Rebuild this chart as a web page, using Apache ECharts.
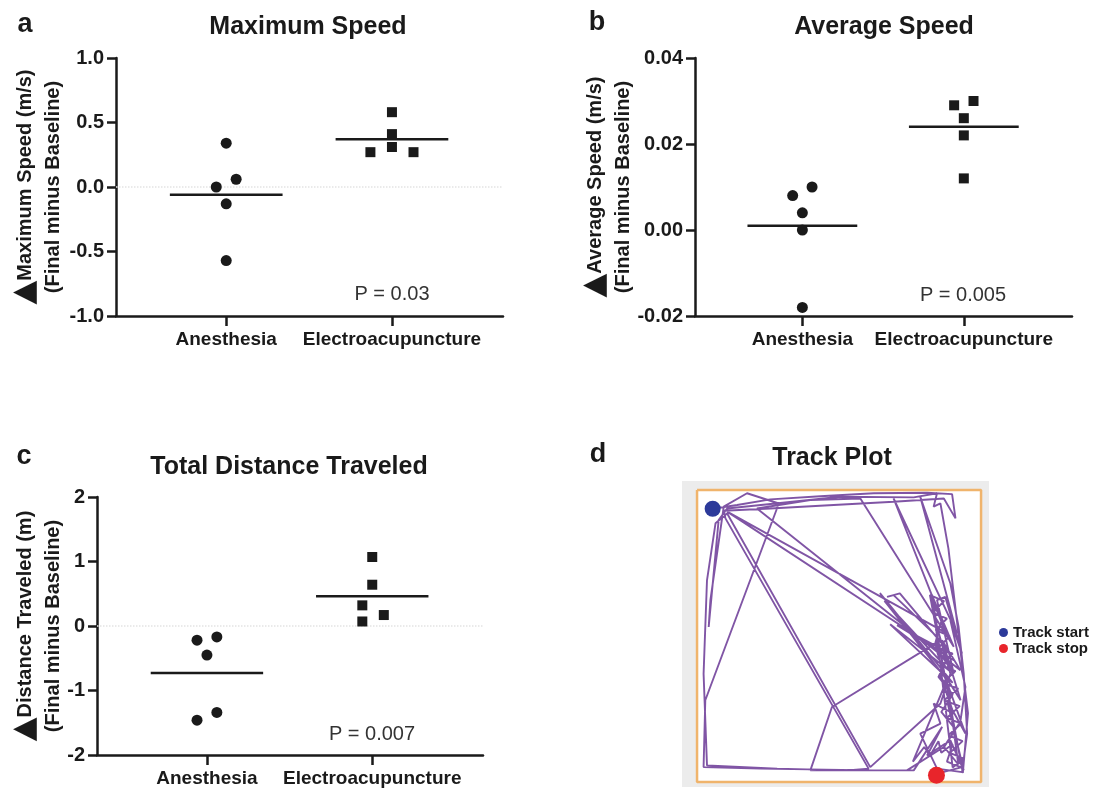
<!DOCTYPE html>
<html>
<head>
<meta charset="utf-8">
<script src="https://cdn.jsdelivr.net/npm/echarts@6.0.0/dist/echarts.min.js"></script>
<style>
  html, body { margin: 0; padding: 0; background: #fff; }
  #chart { width: 1096px; height: 788px; }
</style>
</head>
<body>
<div id="chart"></div>
<script>
// groups on the x axis (placed at 1 and 2, points jittered around them)
const groups = ['Anesthesia', 'Electroacupuncture'];

// a: maximum speed, final minus baseline (m/s)
const maxAnesX = [1, 1.06, 0.94, 1, 1];
const maxAnesY = [0.34, 0.06, 0.0, -0.13, -0.57];
const maxEaX = [2, 2, 2, 1.87, 2.13];
const maxEaY = [0.58, 0.41, 0.31, 0.27, 0.27];
const maxMeans = [-0.06, 0.37];

// b: average speed (m/s)
const avgAnesX = [0.94, 1.06, 1, 1, 1];
const avgAnesY = [0.008, 0.010, 0.004, 0.0, -0.018];
const avgEaX = [1.94, 2.06, 2, 2, 2];
const avgEaY = [0.029, 0.030, 0.026, 0.022, 0.012];
const avgMeans = [0.001, 0.024];

// c: total distance traveled (m)
const distAnesX = [0.94, 1.06, 1, 0.94, 1.06];
const distAnesY = [-0.22, -0.17, -0.45, -1.46, -1.34];
const distEaX = [2, 2, 1.94, 2.07, 1.94];
const distEaY = [1.07, 0.64, 0.32, 0.17, 0.07];
const distMeans = [-0.73, 0.46];

const pValues = ['P = 0.03', 'P = 0.005', 'P = 0.007'];

// d: track plot, arena units 0..100 (y measured downwards)
const arenaX = [0, 100, 100, 0, 0];
const arenaY = [0, 0, 100, 100, 0];
const trackX = [5.5, 14.1, 25.8, 43.4, 62.2, 81.0, 89.8, 91.0, 86.9, 69.2, 48.1, 25.8, 9.4, 10.0,
  60.4, 52.8, 28.2, 3.5, 2.3, 3.5, 6.5, 10.6, 61.0, 85.7, 89.2, 84.5, 82.7, 90.4, 57.5, 39.9,
  21.1, 92.7, 86.3, 92.8, 86.9, 94.5, 88.0, 93.9, 89.2, 81.0, 86.3, 76.3, 39.9, 47.5, 85.7,
  69.2, 66.9, 71.4, 89.2, 70.4, 90.4, 10.6, 88.0, 69.2, 91.5, 78.6, 89.2, 92.1, 93.9, 95.1,
  93.3, 84.5, 78.6, 85.7, 83.3, 90.4, 85.4, 89.2, 84.0, 90.4, 84.5, 87.4, 93.3, 89.2, 94.5,
  92.7, 86.9, 73.9, 62.2, 22.3, 2.3, 2.9, 28.8, 17.6, 9.4, 4.7, 4.1, 7.6, 10.6, 50.5, 76.3,
  84.5, 83.3, 85.7, 88.5, 89.8, 92.6, 95.4, 93.6,
  82, 87, 83, 88, 84, 89, 85, 90, 86, 91, 86.5, 92, 87, 92.5, 88, 93, 88.5, 93.5, 89, 94, 90,
  83, 86, 84, 88, 85, 90, 86, 91, 87, 92,
  88, 66, 89, 68, 90, 64.4, 88,
  76, 80, 82, 85, 86, 90, 88, 93, 86.9, 84.3];
const trackY = [6.4, 5.1, 3.2, 2.1, 1.1, 0.9, 1.4, 9.7, 2.9, 4.0, 5.1, 6.3, 7.1, 9.7,
  95.4, 96.0, 95.4, 94.3, 62.9, 30.9, 11.4, 8.0, 94.9, 73.1, 62.9, 46.9, 36.0, 53.7, 2.9, 3.4,
  6.3, 61.7, 51.4, 72.0, 62.9, 83.4, 72.0, 96.0, 85.7, 90.9, 81.1, 96.0, 96.0, 74.3, 51.4,
  36.0, 36.6, 35.4, 56.0, 46.3, 58.3, 7.4, 49.1, 2.9, 49.1, 2.3, 32.0, 46.9, 62.9, 83.4,
  96.6, 95.4, 83.4, 80.0, 73.1, 76.6, 62.9, 70.3, 53.7, 62.9, 37.7, 36.6, 56.0, 44.6, 67.4,
  79.4, 88.0, 96.0, 96.0, 95.4, 94.9, 72.0, 4.6, 1.1, 5.7, 37.7, 46.9, 10.3, 6.3, 2.3, 2.5,
  1.1, 5.7, 4.6, 20.0, 30.8, 53.8, 76.4, 96.9,
  36, 38, 42, 44, 48, 50, 54, 56, 60, 62, 66, 68, 72, 74, 78, 80, 84, 86, 90, 92, 95,
  38, 45, 52, 58, 64, 70, 76, 82, 88, 94,
  65, 38, 62, 46, 66, 35.3, 65,
  93, 88, 91, 86, 90, 87, 93, 95, 96.5, 97.7];
const trackStart = [5.5, 6.4];
const trackStop = [84.3, 97.7];

const fam = 'Liberation Sans, Arial, Helvetica, sans-serif';
const ink = '#1a1a1a';
const meanHalf = 0.34;
const xMin = 0.335, xMax = 2.67;

const zip = (xs, ys) => xs.map((x, i) => [x, ys[i]]);

const panels = [
  { grid: { left: 116, top: 58, width: 387, height: 258 }, min: -1, max: 1, step: 0.5, dec: 1,
    name: '{tri|▲}{t|Maximum Speed (m/s)}\n{t|(Final minus Baseline)}', gap: 49, zero: true,
    anes: zip(maxAnesX, maxAnesY), ea: zip(maxEaX, maxEaY), means: maxMeans },
  { grid: { left: 695, top: 58, width: 377, height: 258 }, min: -0.02, max: 0.04, step: 0.02, dec: 2,
    name: '{tri|▲}{t|Average Speed (m/s)}\n{t|(Final minus Baseline)}', gap: 58, zero: false,
    anes: zip(avgAnesX, avgAnesY), ea: zip(avgEaX, avgEaY), means: avgMeans },
  { grid: { left: 97, top: 497, width: 386, height: 259 }, min: -2, max: 2, step: 1, dec: 0,
    name: '{tri|▲}{t|Distance Traveled (m)}\n{t|(Final minus Baseline)}', gap: 30, zero: true,
    anes: zip(distAnesX, distAnesY), ea: zip(distEaX, distEaY), means: distMeans }
];

const grids = [], xAxes = [], yAxes = [], series = [];

panels.forEach((p, i) => {
  grids.push(p.grid);
  xAxes.push({
    type: 'value', gridIndex: i, min: xMin, max: xMax,
    axisLine: { onZero: false, lineStyle: { color: ink, width: 2.5 } },
    axisTick: { customValues: [1, 2], length: 10, lineStyle: { color: ink, width: 2.5 } },
    axisLabel: { customValues: [1, 2], formatter: v => groups[Math.round(v) - 1],
      color: ink, fontSize: 19, fontWeight: 'bold', fontFamily: fam, margin: 14 },
    splitLine: { show: false }
  });
  yAxes.push({
    type: 'value', gridIndex: i, min: p.min, max: p.max, interval: p.step,
    name: p.name, nameLocation: 'middle', nameGap: p.gap,
    nameTextStyle: {
      rich: {
        tri: { fontSize: 31, fontFamily: 'DejaVu Sans', color: ink, lineHeight: 28 },
        t: { fontSize: 20, fontWeight: 'bold', fontFamily: fam, color: ink, lineHeight: 28 }
      }
    },
    axisLine: { show: true, onZero: false, lineStyle: { color: ink, width: 2.5 } },
    axisTick: { show: true, length: 9, lineStyle: { color: ink, width: 2.5 } },
    axisLabel: { formatter: v => v.toFixed(p.dec), color: ink, fontSize: 20,
      fontWeight: 'bold', fontFamily: fam, margin: 12 },
    splitLine: { show: false }
  });
  // faint dotted zero line behind the marks
  if (p.zero) {
    series.push({
      type: 'line', xAxisIndex: i, yAxisIndex: i, showSymbol: false, silent: true, z: 1,
      lineStyle: { type: 'dotted', color: '#e4e4e4', width: 1.5 },
      data: [[xMin, 0], [xMax, 0]]
    });
  }
  series.push({
    type: 'scatter', xAxisIndex: i, yAxisIndex: i, symbol: 'circle', symbolSize: 11,
    itemStyle: { color: ink, opacity: 1 }, data: p.anes, z: 4
  });
  series.push({
    type: 'scatter', xAxisIndex: i, yAxisIndex: i, symbol: 'rect', symbolSize: 10,
    itemStyle: { color: ink, opacity: 1 }, data: p.ea, z: 4
  });
  p.means.forEach((m, g) => {
    series.push({
      type: 'line', xAxisIndex: i, yAxisIndex: i, showSymbol: false, silent: true,
      lineStyle: { color: ink, width: 2.5 }, z: 3,
      data: [[g + 1 - meanHalf, m], [g + 1 + meanHalf, m]]
    });
  });
});

// track plot panel
grids.push({ left: 682, top: 481, width: 307, height: 306, show: true,
  backgroundColor: '#ececec', borderWidth: 0 });
xAxes.push({ type: 'value', gridIndex: 3, min: -5.3, max: 102.8, show: false });
yAxes.push({ type: 'value', gridIndex: 3, min: -3.1, max: 101.7, inverse: true, show: false });

series.push({
  name: 'arena', type: 'line', xAxisIndex: 3, yAxisIndex: 3, showSymbol: false, silent: true,
  lineStyle: { color: '#f0b46c', width: 2.5 }, z: 1,
  data: zip(arenaX, arenaY),
  markArea: { silent: true, itemStyle: { color: '#fff' },
    data: [[{ xAxis: arenaX[0], yAxis: arenaY[0] }, { xAxis: arenaX[2], yAxis: arenaY[2] }]] }
});
series.push({
  name: 'track', type: 'line', xAxisIndex: 3, yAxisIndex: 3, showSymbol: false, silent: true,
  lineStyle: { color: '#72429b', width: 1.9, opacity: 0.9 }, z: 2,
  data: zip(trackX, trackY)
});
series.push({
  name: 'Track start', type: 'scatter', xAxisIndex: 3, yAxisIndex: 3, symbolSize: 16,
  itemStyle: { color: '#2c3a9a', opacity: 1 }, z: 5, data: [trackStart]
});
series.push({
  name: 'Track stop', type: 'scatter', xAxisIndex: 3, yAxisIndex: 3, symbolSize: 17,
  itemStyle: { color: '#e8252b', opacity: 1 }, z: 5, data: [trackStop]
});

const txt = (x, y, text, size, weight, color) => ({
  type: 'text', x, y, silent: true,
  style: { text, align: 'center', verticalAlign: 'middle', fontSize: size,
    fontWeight: weight, fontFamily: fam, fill: color || ink }
});

const chart = echarts.init(document.getElementById('chart'));
chart.setOption({
  animation: false,
  backgroundColor: '#fff',
  grid: grids,
  xAxis: xAxes,
  yAxis: yAxes,
  series: series,
  legend: {
    data: ['Track start', 'Track stop'], orient: 'vertical', left: 999, top: 625,
    icon: 'circle', itemWidth: 9, itemHeight: 9, itemGap: 1, padding: 0,
    textStyle: { fontSize: 15, fontWeight: 'bold', fontFamily: fam, color: ink }
  },
  graphic: [
    txt(25, 25, 'a', 27, 'bold'),
    txt(597, 23, 'b', 27, 'bold'),
    txt(24, 457, 'c', 27, 'bold'),
    txt(598, 455, 'd', 27, 'bold'),
    txt(308, 27, 'Maximum Speed', 25, 'bold'),
    txt(884, 27, 'Average Speed', 25, 'bold'),
    txt(289, 467, 'Total Distance Traveled', 25, 'bold'),
    txt(832, 458, 'Track Plot', 25, 'bold'),
    txt(392, 294, pValues[0], 20, 'normal', '#333'),
    txt(963, 295, pValues[1], 20, 'normal', '#333'),
    txt(372, 734, pValues[2], 20, 'normal', '#333')
  ]
});
</script>
</body>
</html>
